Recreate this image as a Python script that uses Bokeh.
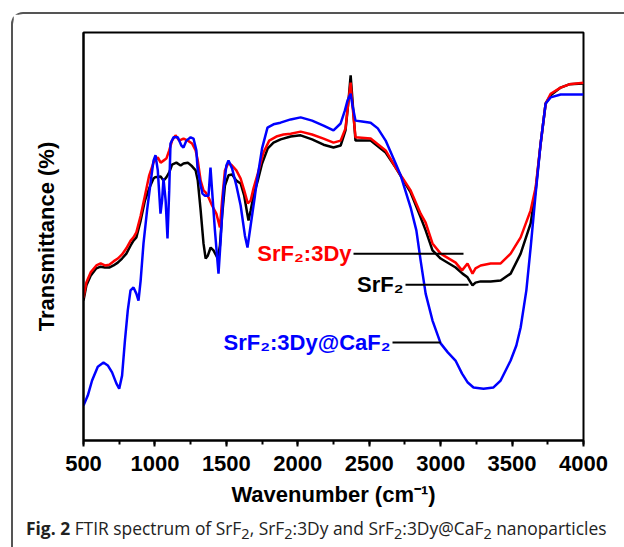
from bokeh.plotting import figure
from bokeh.models import Label, SingleIntervalTicker, FixedTicker, Range1d, Div
from bokeh.layouts import column
from bokeh.embed import file_html
from bokeh.resources import INLINE

# ---------------- data ----------------
wn_srf2 = [500, 520, 550, 590, 620, 650, 680, 710, 740, 770, 800, 830, 850, 870, 900, 930, 960, 990,
           1000, 1040, 1060, 1080, 1100, 1120, 1150, 1180, 1200, 1230, 1260, 1285, 1300, 1320, 1340,
           1355, 1370, 1390, 1410, 1440, 1455, 1470, 1490, 1515, 1540, 1570, 1600, 1625, 1645, 1655,
           1670, 1690, 1720, 1750, 1790, 1830, 1880, 1950, 2020, 2100, 2180, 2250, 2300, 2334, 2355,
           2370, 2383, 2404, 2510, 2615, 2685, 2790, 2860, 2895, 2943, 3000, 3105, 3153, 3188, 3223,
           3244, 3280, 3350, 3420, 3490, 3560, 3630, 3665, 3700, 3735, 3770, 3840, 3900, 4000]
t_srf2 = [34.3, 38.0, 40.4, 42.2, 42.6, 42.4, 42.4, 42.9, 43.6, 44.6, 45.8, 47.8, 49.0, 49.8, 53.9, 58.8,
          61.8, 64.2, 64.5, 64.7, 63.7, 64.5, 65.7, 67.6, 68.1, 67.4, 67.9, 68.1, 67.2, 66.2, 63.7, 56.4,
          48.3, 44.6, 45.3, 47.3, 46.6, 44.6, 47.8, 55.1, 62.5, 65.0, 65.2, 63.7, 63.0, 60.0, 55.9, 53.9,
          56.4, 60.0, 63.7, 67.9, 71.6, 73.0, 73.8, 74.5, 74.8, 73.8, 72.5, 71.8, 72.3, 76.0, 83.3,
          89.5, 83.3, 73.5, 73.5, 70.6, 66.9, 60.8, 54.7, 51.5, 46.6, 44.6, 42.4, 40.9, 40.0, 38.0,
          38.7, 39.0, 39.0, 39.2, 40.9, 45.8, 53.2, 61.3, 72.8, 82.6, 84.6, 86.5, 87.3, 87.5]

wn_dy = [500, 520, 550, 590, 620, 650, 680, 710, 740, 770, 800, 830, 850, 870, 900, 930, 960, 990,
         1000, 1020, 1040, 1060, 1080, 1100, 1120, 1144, 1170, 1200, 1230, 1260, 1285, 1300, 1320,
         1340, 1355, 1375, 1400, 1430, 1455, 1470, 1490, 1515, 1540, 1570, 1600, 1625, 1650, 1670,
         1690, 1720, 1760, 1800, 1850, 1900, 1950, 2020, 2100, 2180, 2250, 2300, 2334, 2355, 2370,
         2383, 2404, 2510, 2615, 2685, 2790, 2860, 2895, 2943, 3000, 3105, 3150, 3188, 3223, 3244,
         3280, 3350, 3420, 3490, 3560, 3630, 3665, 3700, 3735, 3770, 3840, 3900, 4000]
t_dy = [35.0, 38.7, 41.2, 42.9, 43.4, 42.9, 43.1, 43.9, 44.6, 45.6, 47.1, 49.0, 49.8, 51.0, 55.1, 60.0,
        65.0, 68.1, 68.6, 69.4, 68.1, 68.6, 69.1, 71.1, 73.5, 74.8, 73.5, 74.0, 73.5, 72.8, 71.1, 68.6,
        63.7, 61.3, 60.8, 59.6, 57.6, 55.6, 52.2, 58.8, 66.2, 68.1, 67.4, 66.2, 64.2, 61.3, 58.1, 58.8,
        61.8, 65.4, 70.6, 73.5, 74.5, 75.0, 75.2, 75.7, 75.0, 74.0, 73.0, 73.5, 76.5, 83.3, 87.7,
        82.1, 74.3, 74.0, 71.1, 66.9, 61.3, 55.6, 53.4, 48.3, 45.8, 43.6, 41.7, 43.4, 40.9, 42.2,
        42.9, 43.4, 43.4, 45.8, 49.8, 56.4, 62.0, 72.8, 82.6, 85.0, 86.5, 87.3, 87.7]

wn_caf2 = [500, 530, 560, 600, 640, 670, 700, 730, 750, 770, 790, 810, 829, 850, 870, 885, 900, 920,
           945, 969, 990, 1004, 1020, 1039, 1050, 1060, 1075, 1088, 1100, 1109, 1130, 1160, 1185, 1200,
           1220, 1250, 1270, 1290, 1298, 1320, 1333, 1350, 1375, 1389, 1400, 1420, 1445, 1460, 1480,
           1500, 1515, 1540, 1570, 1600, 1630, 1648, 1670, 1700, 1718, 1750, 1788, 1830, 1879, 1950,
           2020, 2100, 2180, 2250, 2300, 2330, 2348, 2370, 2383, 2404, 2450, 2510, 2560, 2615, 2685,
           2720, 2790, 2830, 2860, 2895, 2943, 3000, 3050, 3104, 3150, 3190, 3230, 3300, 3370, 3420,
           3490, 3530, 3560, 3600, 3630, 3665, 3700, 3735, 3770, 3840, 4000]
t_caf2 = [8.6, 11.0, 14.7, 18.1, 19.1, 18.4, 16.7, 14.0, 12.7, 15.9, 24.5, 31.9, 36.8, 37.5, 36.0, 34.3,
          39.2, 48.3, 56.4, 63.0, 68.6, 69.9, 66.2, 55.6, 58.8, 64.2, 58.8, 49.5, 61.3, 72.8, 74.3, 74.3,
          72.3, 71.8, 73.5, 74.3, 74.0, 71.1, 66.9, 62.5, 60.5, 60.0, 60.0, 66.9, 61.3, 51.5, 40.9, 49.0,
          61.3, 67.4, 68.6, 66.7, 62.5, 57.6, 50.2, 47.3, 52.7, 60.0, 64.5, 71.6, 76.7, 77.5, 77.9, 78.7,
          79.2, 78.4, 77.2, 76.0, 77.7, 80.9, 83.3, 85.0, 82.1, 78.4, 78.2, 77.9, 76.5, 73.5, 67.9,
          65.0, 57.1, 51.5, 44.1, 36.0, 29.4, 23.8, 21.6, 19.6, 16.4, 14.2, 13.0, 12.7, 13.0, 14.7,
          19.6, 23.3, 27.7, 36.8, 47.3, 60.5, 72.8, 82.6, 84.1, 84.8, 84.8]

# series labels with their leader lines (start / end wavenumber, level)
label_text = ["SrF\u2082:3Dy", "SrF\u2082", "SrF\u2082:3Dy@CaF\u2082"]
label_color = ["#ff0000", "#000000", "#0000ff"]
lead_x0 = [2390, 2754, 2663]
lead_x1 = [3160, 3195, 3000]
lead_y = [45.8, 38.2, 24.0]

x_title = "Wavenumber (cm\u207b\u00b9)"
y_title = "Transmittance (%)"
caption_html = ("<b>Fig. 2</b> FTIR spectrum of SrF<sub>2</sub>, SrF<sub>2</sub>:3Dy and "
                "SrF<sub>2</sub>:3Dy@CaF<sub>2</sub> nanoparticles")

FONT = "Liberation Sans"

p = figure(width=611, height=501, x_range=Range1d(500, 4000), y_range=Range1d(0, 100),
           output_backend="svg", toolbar_location=None,
           min_border_left=70, min_border_right=41, min_border_top=18, min_border_bottom=75)
p.xgrid.visible = False
p.ygrid.visible = False
p.outline_line_color = "black"
p.outline_line_width = 2
p.background_fill_color = "white"
p.border_fill_color = "white"

xa = p.xaxis[0]
xa.ticker = SingleIntervalTicker(interval=500, num_minor_ticks=2)
xa.axis_line_width = 2
xa.major_tick_line_width = 2
xa.minor_tick_line_width = 2
xa.major_tick_in = 0
xa.major_tick_out = 6
xa.minor_tick_in = 0
xa.minor_tick_out = 4
xa.major_label_standoff = 9
xa.major_label_text_font = FONT
xa.major_label_text_font_style = "bold"
xa.major_label_text_font_size = "22px"
xa.major_label_text_color = "black"
xa.axis_label = x_title
xa.axis_label_text_font = FONT
xa.axis_label_text_font_style = "bold"
xa.axis_label_text_font_size = "22px"
xa.axis_label_text_color = "black"
xa.axis_label_standoff = 8

ya = p.yaxis[0]
ya.ticker = FixedTicker(ticks=[])
ya.axis_line_width = 2
ya.major_tick_line_color = None
ya.minor_tick_line_color = None
ya.axis_label = y_title
ya.axis_label_text_font = FONT
ya.axis_label_text_font_style = "bold"
ya.axis_label_text_font_size = "22px"
ya.axis_label_text_color = "black"
ya.axis_label_standoff = 25

p.line(wn_srf2, t_srf2, line_color="black", line_width=2.5)
p.line(wn_dy, t_dy, line_color="#ff0000", line_width=2.5)
p.line(wn_caf2, t_caf2, line_color="#0000ff", line_width=2.5)

p.segment(x0=lead_x0, y0=lead_y, x1=lead_x1, y1=lead_y, line_color="black", line_width=2)
for txt, col, x0, y in zip(label_text, label_color, lead_x0, lead_y):
    p.add_layout(Label(x=x0, y=y, text=txt, text_align="right", text_baseline="middle",
                       x_offset=-2, text_font=FONT, text_font_style="bold",
                       text_font_size="22px", text_color=col))

caption = Div(text=caption_html, width=611, height=30,
              styles={"font-family": "'Open Sans', sans-serif", "font-size": "17.4px",
                      "color": "#222222", "padding-left": "8px", "white-space": "nowrap",
                      "line-height": "16px"})

root = column(p, caption, spacing=0,
              styles={"margin-left": "11px", "margin-top": "12px",
                      "border-left": "2px solid #555555", "border-top": "2px solid #555555",
                      "border-top-left-radius": "12px"})

open("out.html", "w").write(file_html(root, INLINE))
